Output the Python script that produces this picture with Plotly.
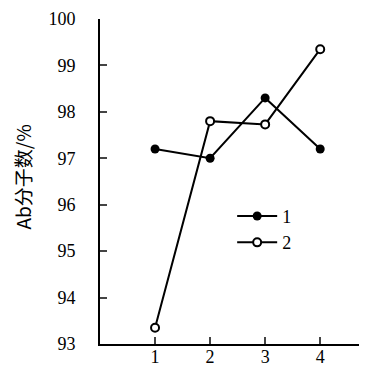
import plotly.graph_objects as go

x_vals = [1, 2, 3, 4]
series1 = [97.2, 97.0, 98.3, 97.2]
series2 = [93.35, 97.8, 97.73, 99.35]
y_ticks = [93, 94, 95, 96, 97, 98, 99, 100]
x_ticks = [1, 2, 3, 4]
y_title = "Ab分子数/%"

font_family = "Liberation Serif, Noto Sans CJK SC, serif"

fig = go.Figure()
fig.add_trace(go.Scatter(
    x=x_vals, y=series1, name="1", mode="lines+markers",
    line=dict(color="black", width=2),
    marker=dict(symbol="circle", size=9, color="black"),
    cliponaxis=False,
))
fig.add_trace(go.Scatter(
    x=x_vals, y=series2, name="2", mode="lines+markers",
    line=dict(color="black", width=2),
    marker=dict(symbol="circle", size=8, color="white", line=dict(color="black", width=2)),
    cliponaxis=False,
))

# page body has an 8px default margin, so the figure is 359x359 placed at (8, 8)
fig.update_layout(
    width=359, height=359,
    margin=dict(l=92, r=0, t=11, b=23),
    paper_bgcolor="white", plot_bgcolor="white",
    font=dict(family=font_family, size=18, color="black"),
    showlegend=True,
    legend=dict(x=0.495, y=0.45, xanchor="left", yanchor="top",
                bgcolor="rgba(0,0,0,0)", font=dict(size=18),
                tracegroupgap=0, itemwidth=40),
    xaxis=dict(range=[0, 4.85], tickvals=x_ticks, ticks="inside", ticklen=7,
               tickwidth=2, showline=True, linecolor="black", linewidth=2,
               showgrid=False, zeroline=False, tickfont=dict(size=18),
               automargin=False, ticklabelstandoff=-5),
    yaxis=dict(range=[93, 100], tickvals=y_ticks, ticks="inside", ticklen=7,
               tickwidth=2, showline=True, linecolor="black", linewidth=2,
               showgrid=False, zeroline=False, tickfont=dict(size=18),
               automargin=False, ticklabelstandoff=19),
    annotations=[dict(
        text=y_title, textangle=-90, xref="paper", yref="paper",
        x=-0.29, y=0.514, xanchor="center", yanchor="middle", showarrow=False,
        font=dict(family="Noto Sans CJK SC, DejaVu Sans, sans-serif", size=19),
    )],
)

fig.write_html("out.html")
